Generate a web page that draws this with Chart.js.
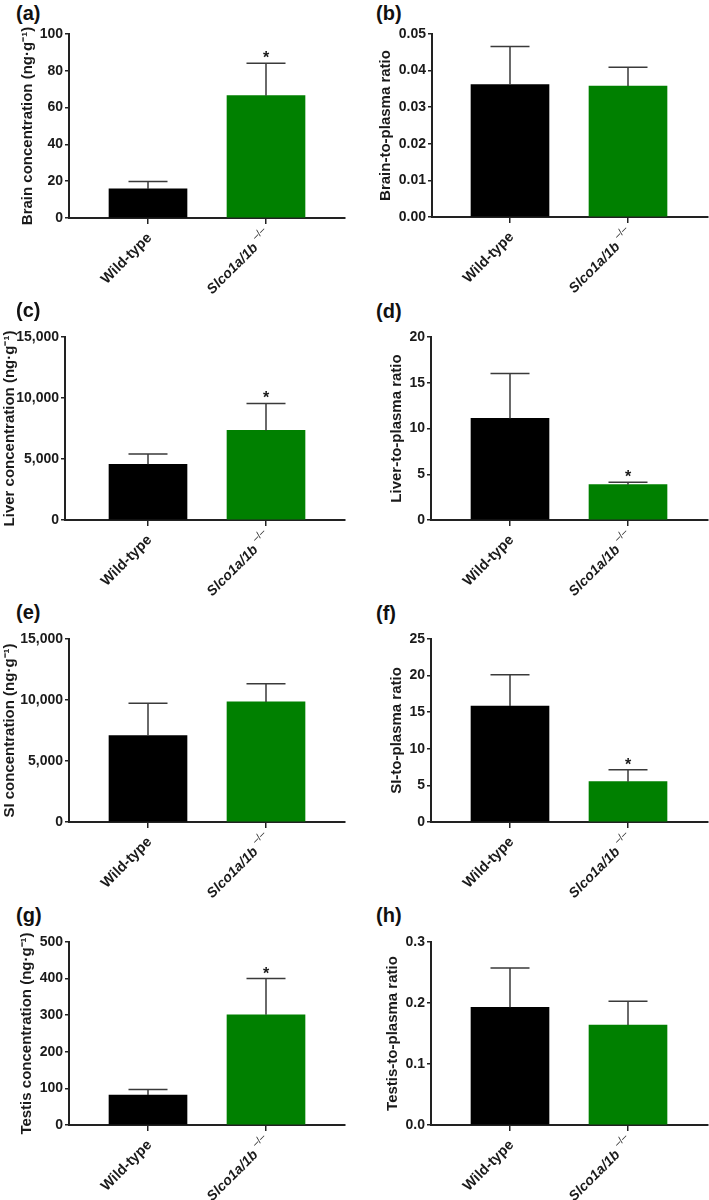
<!DOCTYPE html>
<html>
<head>
<meta charset="utf-8">
<script src="https://cdn.jsdelivr.net/npm/chart.js@4.4.0/dist/chart.umd.min.js"></script>
<style>
  html, body { margin: 0; padding: 0; background: #fff; }
  #fig { position: relative; width: 709px; height: 1200px; overflow: hidden; }
  #fig canvas { position: absolute; }
  .tag { position: absolute; font: bold 20px "Liberation Sans", Arial, sans-serif; line-height: 20px; color: #111; }
</style>
</head>
<body>
<div id="fig"></div>
<script>
// ---- data ----
const groupLabels = ['Wild-type', 'Slco1a/1b'];
const groupSup = ['', '\u2013/\u2013'];
const panelTags = ['(a)', '(b)', '(c)', '(d)', '(e)', '(f)', '(g)', '(h)'];
const yTitles = [
  'Brain concentration (ng\u00b7g\u207b\u00b9)',
  'Brain-to-plasma ratio',
  'Liver concentration (ng\u00b7g\u207b\u00b9)',
  'Liver-to-plasma ratio',
  'SI concentration (ng\u00b7g\u207b\u00b9)',
  'SI-to-plasma ratio',
  'Testis concentration (ng\u00b7g\u207b\u00b9)',
  'Testis-to-plasma ratio'
];
const yMax = [100, 0.05, 15000, 20, 15000, 25, 500, 0.3];
const yStep = [20, 0.01, 5000, 5, 5000, 5, 100, 0.1];
const yDecimals = [0, 2, 0, 0, 0, 0, 0, 1];
const wildTypeMean = [15.8, 0.0362, 4570, 11.1, 7080, 15.85, 81.8, 0.193];
const wildTypeErr = [4.0, 0.0104, 850, 4.9, 2650, 4.28, 15.5, 0.0645];
const knockoutMean = [66.5, 0.0358, 7340, 3.86, 9840, 5.51, 300.9, 0.164];
const knockoutErr = [17.6, 0.0051, 2210, 0.26, 1500, 1.64, 99.1, 0.039];
const knockoutStar = [true, false, true, true, false, true, true, false];

// ---- layout of each panel (canvas-relative pixels) ----
const FONT = '"Liberation Sans", Arial, Helvetica, sans-serif';
const INK = '#1a1a1a';
const boxes = [
  { left: 0,   top: 0,   w: 355, axisX: 69, plotTop: 34, plotBottom: 218, plotRight: 345, titleX: 28, c0: 148 },
  { left: 355, top: 0,   w: 354, axisX: 77, plotTop: 34, plotBottom: 217, plotRight: 353, titleX: 31, c0: 155 },
  { left: 0,   top: 300, w: 355, axisX: 65, plotTop: 37, plotBottom: 220, plotRight: 345, titleX: 10, c0: 148 },
  { left: 355, top: 300, w: 354, axisX: 76, plotTop: 37, plotBottom: 220, plotRight: 353, titleX: 42, c0: 155 },
  { left: 0,   top: 600, w: 355, axisX: 69, plotTop: 39, plotBottom: 222, plotRight: 345, titleX: 10, c0: 148 },
  { left: 355, top: 600, w: 354, axisX: 76, plotTop: 39, plotBottom: 222, plotRight: 353, titleX: 42, c0: 155 },
  { left: 0,   top: 900, w: 355, axisX: 69, plotTop: 42, plotBottom: 225, plotRight: 345, titleX: 27, c0: 148 },
  { left: 355, top: 900, w: 354, axisX: 76, plotTop: 42, plotBottom: 225, plotRight: 353, titleX: 38, c0: 155 }
];
const tagPos = [[16, 3], [376, 3], [16, 300], [376, 301], [16, 602], [376, 603], [16, 905], [376, 905]];
// where the baseline end of each rotated group label sits, relative to its tick
const labelAnchor = [{ dx: 4.5, dy: 20.5, size: 14.5 }, { dx: -7.5, dy: 30.5, size: 14 }];
const SPACING = 118;   // px between the two bar centres
const BAR_W = 78;
const H = 300;

const fig = document.getElementById('fig');

function fmt(v, d) {
  return d > 0 ? v.toFixed(d) : Math.round(v).toLocaleString('en-US');
}

panelTags.forEach((tag, k) => {
  const b = boxes[k];

  const t = document.createElement('div');
  t.className = 'tag';
  t.textContent = tag;
  t.style.left = tagPos[k][0] + 'px';
  t.style.top = tagPos[k][1] + 'px';
  fig.appendChild(t);

  const canvas = document.createElement('canvas');
  canvas.width = b.w;
  canvas.height = H;
  canvas.style.left = b.left + 'px';
  canvas.style.top = b.top + 'px';
  fig.appendChild(canvas);

  const means = [wildTypeMean[k], knockoutMean[k]];
  const errs = [wildTypeErr[k], knockoutErr[k]];
  const stars = [false, knockoutStar[k]];
  const xMin = (b.axisX - b.c0) / SPACING;
  const xMax = xMin + (b.plotRight - b.axisX) / SPACING;

  // error bars, significance stars, rotated group labels
  const decor = {
    id: 'decor' + k,
    afterDatasetsDraw(chart) {
      const { ctx, scales: { x, y } } = chart;
      ctx.save();
      ctx.strokeStyle = '#3a3a3a';
      ctx.lineWidth = 1.5;
      means.forEach((m, i) => {
        const px = x.getPixelForValue(i);
        const yBar = y.getPixelForValue(m);
        const yTop = y.getPixelForValue(m + errs[i]);
        ctx.beginPath();
        ctx.moveTo(px, yBar);
        ctx.lineTo(px, yTop);
        ctx.moveTo(px - BAR_W / 4, yTop);
        ctx.lineTo(px + BAR_W / 4, yTop);
        ctx.stroke();
        if (stars[i]) {
          ctx.fillStyle = INK;
          ctx.font = 'bold 16px ' + FONT;
          ctx.textAlign = 'center';
          ctx.textBaseline = 'alphabetic';
          ctx.fillText('*', px, yTop);
        }
      });
      ctx.restore();
    },
    afterDraw(chart) {
      const { ctx, scales: { x }, chartArea } = chart;
      groupLabels.forEach((lab, i) => {
        const px = x.getPixelForValue(i);
        const a = labelAnchor[i];
        ctx.save();
        ctx.translate(px + a.dx, chartArea.bottom + a.dy);
        ctx.rotate(-Math.PI / 4);
        ctx.fillStyle = INK;
        ctx.textBaseline = 'alphabetic';
        ctx.textAlign = 'right';
        ctx.font = (i === 1 ? 'italic ' : '') + 'bold ' + a.size + 'px ' + FONT;
        ctx.fillText(lab, 0, 0);
        if (groupSup[i]) {
          ctx.textAlign = 'left';
          ctx.font = '10px ' + FONT;
          ctx.fillText(groupSup[i], 4, -7.5);
        }
        ctx.restore();
      });
    }
  };

  new Chart(canvas, {
    type: 'bar',
    data: {
      datasets: [{
        data: means.map((m, i) => ({ x: i, y: m })),
        backgroundColor: ['#000000', '#008000'],
        borderWidth: 0,
        barThickness: BAR_W
      }]
    },
    options: {
      responsive: false,
      animation: false,
      devicePixelRatio: 1,
      layout: { padding: { top: b.plotTop, right: b.w - b.plotRight, bottom: 0, left: 0 } },
      plugins: { legend: { display: false }, tooltip: { enabled: false } },
      scales: {
        x: {
          type: 'linear',
          min: xMin,
          max: xMax,
          offset: false,
          afterBuildTicks: s => { s.ticks = [{ value: 0 }, { value: 1 }]; },
          afterFit: s => { s.height = H - b.plotBottom; },
          ticks: { display: false },
          grid: { offset: false, drawOnChartArea: false, drawTicks: true, tickLength: 6, color: '#222', lineWidth: 1.5 },
          border: { display: true, color: '#222', width: 2 }
        },
        y: {
          type: 'linear',
          min: 0,
          max: yMax[k],
          afterFit: s => { s.width = b.axisX; },
          ticks: {
            stepSize: yStep[k],
            padding: 2,
            color: INK,
            font: { family: FONT, size: 14, weight: 'bold' },
            callback: v => fmt(v, yDecimals[k])
          },
          grid: { drawOnChartArea: false, drawTicks: true, tickLength: 4, color: '#222', lineWidth: 1.5 },
          border: { display: true, color: '#222', width: 2 },
          title: {
            display: true,
            text: yTitles[k],
            color: INK,
            font: { family: FONT, size: 15, weight: 'bold' },
            padding: { top: b.titleX - 9, bottom: 0 }
          }
        }
      }
    },
    plugins: [decor]
  });
});
</script>
</body>
</html>
